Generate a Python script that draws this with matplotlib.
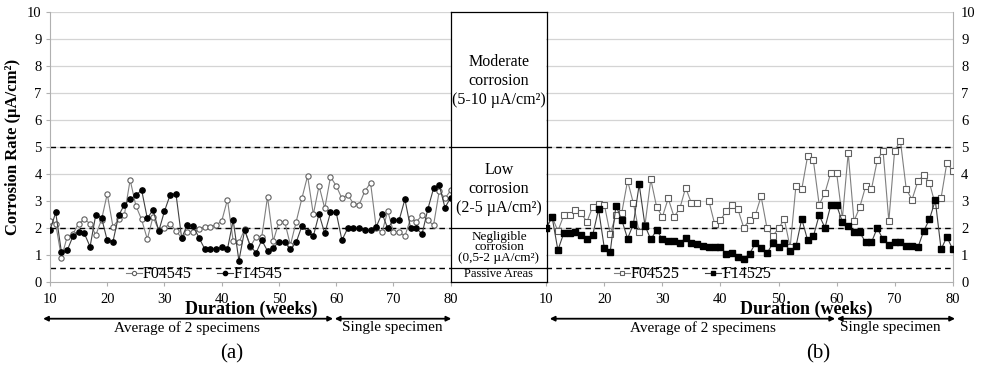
import numpy as np
from matplotlib import pyplot as plt

plt.rcParams['font.family'] = ['Liberation Serif', 'DejaVu Serif']

weeks = np.arange(10, 81)

# panel (a)
F04545 = [2.26, 2.14, 0.89, 1.67, 1.77, 2.16, 2.31, 2.16, 1.73, 2.30,
          3.26, 2.04, 2.31, 2.49, 3.78, 2.82, 2.31, 1.58, 2.41, 1.91,
          2.00, 2.16, 1.89, 1.62, 1.85, 1.85, 1.94, 2.04, 2.04, 2.10,
          2.25, 3.05, 1.51, 1.46, 1.94, 1.30, 1.67, 1.67, 3.15, 1.51,
          2.22, 2.22, 1.36, 2.22, 3.09, 3.93, 2.50, 3.56, 2.72, 3.89,
          3.56, 3.09, 3.23, 2.90, 2.86, 3.36, 3.67, 1.98, 1.83, 2.63,
          1.84, 1.84, 1.69, 2.35, 2.22, 2.47, 2.29, 2.09, 3.37, 3.09,
          3.39]
F14545 = [1.91, 2.57, 1.09, 1.16, 1.68, 1.85, 1.79, 1.30, 2.49, 2.38,
          1.53, 1.49, 2.46, 2.86, 3.07, 3.20, 3.41, 2.35, 2.67, 1.88,
          2.62, 3.23, 3.27, 1.62, 2.12, 2.08, 1.64, 1.23, 1.23, 1.21,
          1.27, 1.21, 2.28, 0.78, 1.91, 1.33, 1.07, 1.54, 1.14, 1.26,
          1.48, 1.46, 1.21, 1.46, 2.06, 1.85, 1.69, 2.51, 1.79, 2.57,
          2.57, 1.54, 1.98, 1.98, 1.98, 1.91, 1.91, 2.04, 2.53, 1.98,
          2.29, 2.29, 3.06, 1.98, 1.98, 1.77, 2.69, 3.46, 3.58, 2.75,
          3.12]

# panel (b)
F04525 = [2.00, 2.40, 1.88, 2.46, 2.46, 2.68, 2.54, 2.22, 2.79, 2.90,
          2.86, 1.77, 2.48, 2.56, 3.75, 2.91, 1.83, 2.10, 3.80, 2.78,
          2.41, 3.09, 2.41, 2.72, 3.49, 2.91, 2.91, np.nan, 3.00, 2.14,
          2.30, 2.61, 2.86, 2.69, 2.01, 2.28, 2.47, 3.17, 2.00, 1.70,
          1.98, 2.32, 1.27, 3.57, 3.43, 4.65, 4.50, 2.86, 3.30, 4.05,
          4.05, 2.35, 4.78, 2.25, 2.77, 3.54, 3.43, 4.50, 4.87, 2.25,
          4.87, 5.22, 3.43, 3.05, 3.73, 3.95, 3.67, 2.86, 3.11, 4.42,
          4.11]
F14525 = [2.00, 2.40, 1.17, 1.80, 1.80, 1.86, 1.73, 1.60, 1.74, 2.69,
          1.24, 1.09, 2.82, 2.29, 1.60, 2.14, 3.61, 2.08, 1.57, 1.92,
          1.57, 1.52, 1.52, 1.42, 1.63, 1.45, 1.39, 1.33, 1.27, 1.27,
          1.29, 1.03, 1.07, 0.92, 0.84, 1.03, 1.42, 1.25, 1.05, 1.42,
          1.27, 1.42, 1.15, 1.31, 2.33, 1.55, 1.68, 2.47, 2.00, 2.84,
          2.84, 2.22, 2.07, 1.83, 1.83, 1.46, 1.46, 1.99, 1.57, 1.36,
          1.47, 1.47, 1.33, 1.33, 1.27, 1.88, 2.32, 3.02, 1.20, 1.67,
          1.20]

limits = [0.5, 2, 5]
xticks = [10, 20, 30, 40, 50, 60, 70, 80]
yticks = list(range(0, 11))

W, H = 985, 373
fig = plt.figure(figsize=(W / 100, H / 100), dpi=100)

def fx(px):
    return px / W

def fy(py):
    return (H - py) / H

bot, top = fy(281.7), fy(12.3)
ax1 = fig.add_axes([fx(50), bot, fx(400.7), top - bot])
ax2 = fig.add_axes([fx(546.3), bot, fx(406.4), top - bot])
axm = fig.add_axes([fx(450.7), bot, fx(96.6), top - bot])

def setup(ax, side):
    ax.set_facecolor('none')
    ax.set_xlim(10, 80)
    ax.set_ylim(0, 10)
    ax.set_xticks(xticks)
    ax.set_yticks(yticks)
    for y in yticks[1:]:
        ax.axhline(y, color='#d4d4d4', lw=0.9, zorder=0)
    for y in limits:
        ax.axhline(y, color='black', lw=1.0, ls=(0, (4, 3)), zorder=1)
    for s in ax.spines.values():
        s.set_visible(False)
    ax.spines['bottom'].set_visible(True)
    ax.spines['bottom'].set_color('#b0b0b0')
    ax.spines[side].set_visible(True)
    ax.spines[side].set_color('#b0b0b0')
    ax.tick_params(axis='both', colors='#b0b0b0', labelcolor='black',
                   labelsize=10.5, length=3, direction='out')
    ax.tick_params(axis='x', pad=5)
    if side == 'right':
        ax.yaxis.tick_right()
        ax.tick_params(axis='y', length=0, pad=6)
    else:
        ax.tick_params(axis='y', pad=3)

setup(ax1, 'left')
setup(ax2, 'right')

ax1.plot(weeks, F04545, '-o', color='#7f7f7f', lw=0.8, ms=3.8,
         mfc='white', mec='#606060', mew=0.8, label='F04545', zorder=3)
ax1.plot(weeks, F14545, '-o', color='#404040', lw=0.8, ms=3.8,
         mfc='black', mec='black', label='F14545', zorder=4)
ax2.plot(weeks, F04525, '-s', color='#7f7f7f', lw=0.8, ms=3.8,
         mfc='white', mec='#606060', mew=0.8, label='F04525', zorder=3)
ax2.plot(weeks, F14525, '-s', color='#404040', lw=0.8, ms=3.8,
         mfc='black', mec='black', label='F14525', zorder=4)

for ax, cx in [(ax1, 0.385), (ax2, 0.36)]:
    ax.legend(loc='center', bbox_to_anchor=(cx, 0.028), ncol=2, frameon=False,
              fontsize=11.5, handlelength=1.0, handletextpad=0.05,
              columnspacing=1.6, markerscale=0.8, borderpad=0)

ax1.set_ylabel('Corrosion Rate (µA/cm²)', fontsize=12, fontweight='bold',
               labelpad=4)

# middle box with the corrosion levels
axm.set_facecolor('none')
axm.set_xlim(0, 1)
axm.set_ylim(0, 10)
axm.set_xticks([])
axm.set_yticks([])
for s in axm.spines.values():
    s.set_color('black')
    s.set_linewidth(0.9)
for y in limits:
    axm.axhline(y, color='black', lw=0.9)
axm.text(0.5, 7.45, 'Moderate\ncorrosion\n(5-10 µA/cm²)', ha='center',
         va='center', fontsize=11.5, linespacing=1.25)
axm.text(0.5, 3.45, 'Low\ncorrosion\n(2-5 µA/cm²)', ha='center',
         va='center', fontsize=11.5, linespacing=1.25)
axm.text(0.5, 1.28, 'Negligible\ncorrosion\n(0,5-2 µA/cm²)', ha='center',
         va='center', fontsize=9.5, linespacing=0.85)
axm.text(0.5, 0.27, 'Passive Areas', ha='center', va='center', fontsize=9)

# x axis titles, specimen arrows and panel letters
for ax, xc, a1, a2, a3, t1, t2, tag, xt in [
        (ax1, 45.2, 8.8, 59.6, 80.1, 34.0, 69.8, '(a)', 41.8),
        (ax2, 54.8, 10.6, 59.9, 80.4, 37.0, 69.3, '(b)', 56.8)]:
    ax.annotate('Duration (weeks)', xy=(xc, fy(309)),
                xycoords=('data', 'figure fraction'), ha='center',
                va='center', fontsize=13, fontweight='bold')
    ax.annotate('', xy=(a1, fy(318.7)), xytext=(a2 - 0.15, fy(318.7)),
                xycoords=('data', 'figure fraction'),
                textcoords=('data', 'figure fraction'),
                arrowprops=dict(arrowstyle='<|-|>', color='black', lw=1.3,
                                mutation_scale=7, shrinkA=0, shrinkB=0))
    ax.annotate('', xy=(a2 + 0.15, fy(318.7)), xytext=(a3, fy(318.7)),
                xycoords=('data', 'figure fraction'),
                textcoords=('data', 'figure fraction'),
                arrowprops=dict(arrowstyle='<|-|>', color='black', lw=1.3,
                                mutation_scale=7, shrinkA=0, shrinkB=0))
    ax.annotate('Average of 2 specimens', xy=(t1, fy(328)),
                xycoords=('data', 'figure fraction'), ha='center',
                va='center', fontsize=11)
    ax.annotate('Single specimen', xy=(t2, fy(328)),
                xycoords=('data', 'figure fraction'), ha='center',
                va='center', fontsize=11)
    ax.annotate(tag, xy=(xt, fy(354)),
                xycoords=('data', 'figure fraction'), ha='center',
                va='center', fontsize=15)

plt.savefig('out.png', dpi=100)
